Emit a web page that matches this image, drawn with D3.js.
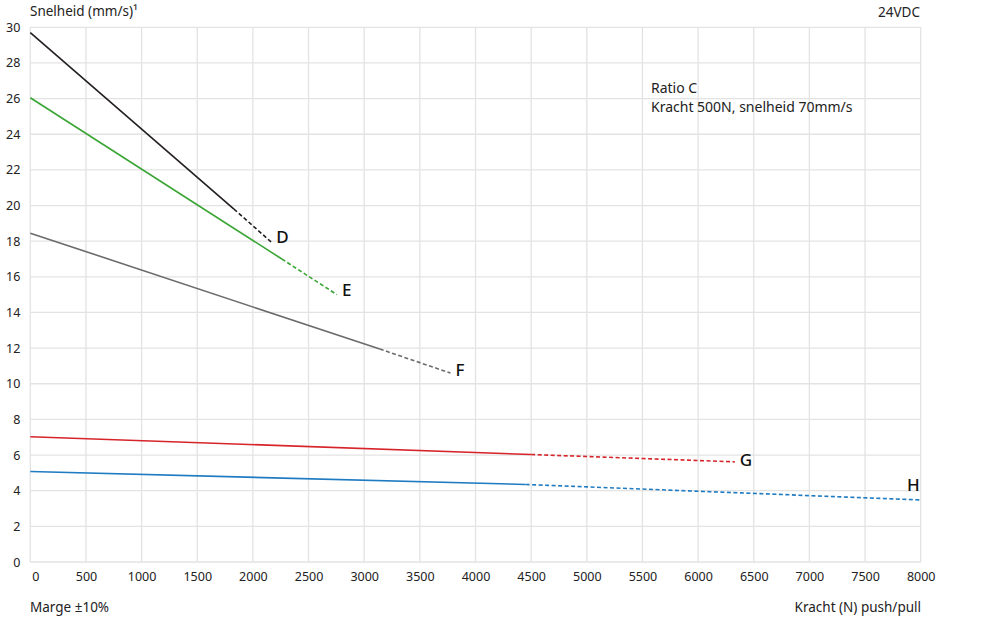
<!DOCTYPE html>
<html>
<head>
<meta charset="utf-8">
<script src="https://cdn.jsdelivr.net/npm/d3@7"></script>
<style>
  body { margin: 0; background: #fff; }
  svg { display: block; font-family: "Noto Sans", "DejaVu Sans", sans-serif; }
</style>
</head>
<body>
<svg id="chart" width="999" height="620"></svg>
<script>
// ---- data ----
const xTicks = [0, 500, 1000, 1500, 2000, 2500, 3000, 3500, 4000, 4500, 5000, 5500, 6000, 6500, 7000, 7500, 8000];
const yTicks = [0, 2, 4, 6, 8, 10, 12, 14, 16, 18, 20, 22, 24, 26, 28, 30];

const seriesNames = ["D", "E", "F", "G", "H"];
// solid part: [force, speed] pairs
const solidD = [[0, 29.7], [1830, 19.8]];
const dashD  = [[1830, 19.8], [2165, 17.95]];
const solidE = [[0, 26.05], [2260, 17.0]];
const dashE  = [[2260, 17.0], [2755, 15.0]];
const solidF = [[0, 18.45], [3140, 11.95]];
const dashF  = [[3140, 11.95], [3775, 10.6]];
const solidG = [[0, 7.03], [4500, 6.03]];
const dashG  = [[4500, 6.03], [6330, 5.62]];
const solidH = [[0, 5.08], [4450, 4.35]];
const dashH  = [[4450, 4.35], [8000, 3.48]];

const yTitle = "Snelheid (mm/s)\u00b9";
const xTitle = "Kracht (N) push/pull";
const topRight = "24VDC";
const bottomLeft = "Marge \u00b110%";
const noteLines = ["Ratio C", "Kracht 500N, snelheid 70mm/s"];

// ---- styles / layout ----
const colors = { D: "#231f20", E: "#3aa535", F: "#6b6b6b", G: "#d7242a", H: "#1f7bc2" };
const labelOffset = { D: [5, -4, "start"], E: [5, -3, "start"], F: [5, -2, "start"], G: [5, -0.5, "start"], H: [-1, -13.5, "end"] };

const svg = d3.select("#chart");
const x = d3.scaleLinear().domain([0, 8000]).range([30.3, 920.7]);
const y = d3.scaleLinear().domain([0, 30]).range([562, 27.3]);

// grid
const grid = svg.append("g");
grid.selectAll("line.v").data(xTicks).join("line")
  .attr("x1", d => x(d)).attr("x2", d => x(d))
  .attr("y1", y(30)).attr("y2", y(0))
  .attr("stroke", "#e3e3e3").attr("stroke-width", 1.3);
grid.selectAll("line.h").data(yTicks).join("line")
  .attr("x1", x(0)).attr("x2", x(8000))
  .attr("y1", d => y(d)).attr("y2", d => y(d))
  .attr("stroke", "#e3e3e3").attr("stroke-width", 1.3);

// axes tick labels via d3 axes
const xAxis = d3.axisBottom(x).tickValues(xTicks).tickSize(0).tickPadding(10).tickFormat(d3.format("d"));
const gx = svg.append("g").attr("transform", `translate(0,${y(0)})`).call(xAxis);
gx.select(".domain").remove();
gx.selectAll("text").attr("font-size", 12.5).attr("fill", "#222")
  .attr("font-family", "'Noto Sans', sans-serif")
  .attr("dx", d => d === 0 ? 5 : 0);

const yAxis = d3.axisLeft(y).tickValues(yTicks).tickSize(0).tickPadding(10).tickFormat(d3.format("d"));
const gy = svg.append("g").attr("transform", `translate(${x(0)},0)`).call(yAxis);
gy.select(".domain").remove();
gy.selectAll("text").attr("font-size", 12.5).attr("fill", "#222")
  .attr("font-family", "'Noto Sans', sans-serif");

// lines
const line = d3.line().x(d => x(d[0])).y(d => y(d[1]));
const solids = { D: solidD, E: solidE, F: solidF, G: solidG, H: solidH };
const dashes = { D: dashD, E: dashE, F: dashF, G: dashG, H: dashH };

seriesNames.forEach(n => {
  svg.append("path").datum(solids[n]).attr("d", line)
    .attr("fill", "none").attr("stroke", colors[n]).attr("stroke-width", 1.6);
  svg.append("path").datum(dashes[n]).attr("d", line)
    .attr("fill", "none").attr("stroke", colors[n]).attr("stroke-width", 1.6)
    .attr("stroke-dasharray", "4,2.5");
  const end = dashes[n][dashes[n].length - 1];
  const off = labelOffset[n];
  svg.append("text").attr("x", x(end[0]) + off[0]).attr("y", y(end[1]) + off[1])
    .attr("dominant-baseline", "middle").attr("text-anchor", off[2])
    .attr("font-size", 17).attr("font-weight", 500).attr("fill", "#111").text(n);
});

// titles
svg.append("text").attr("x", 30).attr("y", 12).attr("dominant-baseline", "middle")
  .attr("font-size", 13.5).attr("fill", "#222").text(yTitle);
svg.append("text").attr("x", 920).attr("y", 13).attr("dominant-baseline", "middle")
  .attr("text-anchor", "end").attr("font-size", 13.5).attr("fill", "#222").text(topRight);
svg.append("text").attr("x", 30).attr("y", 608).attr("dominant-baseline", "middle")
  .attr("font-size", 13.5).attr("fill", "#222").text(bottomLeft);
svg.append("text").attr("x", 921).attr("y", 608).attr("dominant-baseline", "middle")
  .attr("text-anchor", "end").attr("font-size", 13.5).attr("fill", "#222").text(xTitle);

svg.selectAll("text.note").data(noteLines).join("text").attr("class", "note")
  .attr("x", 651).attr("y", (d, i) => 89.5 + i * 18.5).attr("dominant-baseline", "middle")
  .attr("font-size", 14).attr("fill", "#222").text(d => d);
</script>
</body>
</html>
